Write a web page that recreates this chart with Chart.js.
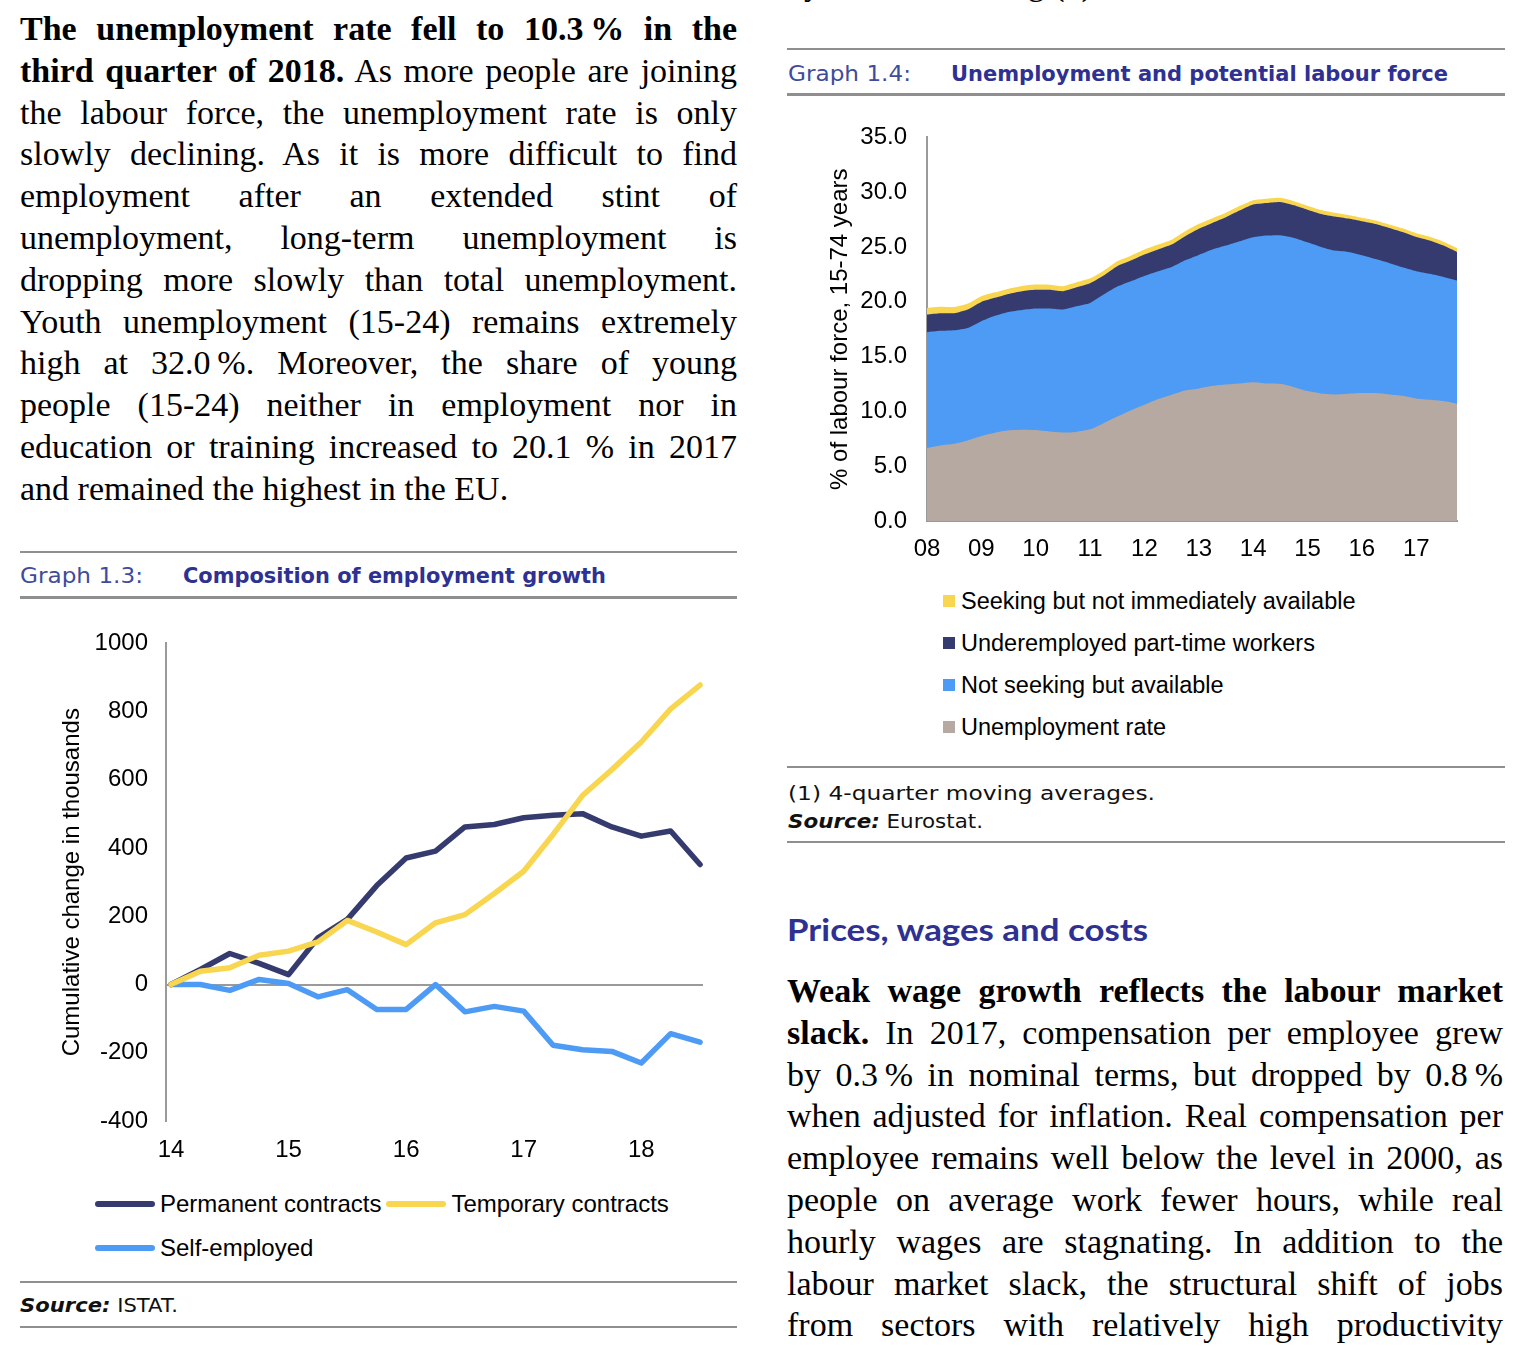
<!DOCTYPE html>
<html>
<head>
<meta charset="utf-8">
<script src="https://cdn.jsdelivr.net/npm/chart.js@4.4.1/dist/chart.umd.min.js"></script>
<style>
  body { margin: 0; background: #fff; width: 1513px; height: 1350px; overflow: hidden; position: relative; }
  .abs { position: absolute; white-space: nowrap; transform-origin: 0 0; }
  .para { position: absolute; font-family: 'Liberation Serif', 'Times New Roman', serif; font-size: 34px; color: #000; }
  .para .ln { height: 41.8px; line-height: 41.8px; text-align: justify; text-align-last: justify; }
  .para .ln.last { text-align-last: left; }
  .rule { position: absolute; background: #8f8f8f; height: 2px; }
  .glabel { font-family: 'DejaVu Sans', sans-serif; font-size: 21px; line-height: 1; color: #3f4b9c; }
  .gtitle { font-family: 'DejaVu Sans', sans-serif; font-size: 21px; line-height: 1; font-weight: bold; color: #2e3192; }
  .note { font-family: 'DejaVu Sans', sans-serif; font-size: 20px; line-height: 1; color: #111; }
  .heading { font-family: 'Lato', sans-serif; font-size: 30px; line-height: 1; font-weight: bold; color: #2e3192; }
  canvas { position: absolute; }
  #lineLegend { position: absolute; left: 95px; top: 1182px; width: 610px; display: flex; flex-wrap: wrap;
    font-family: 'Liberation Sans', Arial, sans-serif; font-size: 24px; color: #000; }
  #lineLegend .item { display: flex; align-items: center; height: 44px; margin-right: 5px; }
  #lineLegend .mark { width: 60px; height: 6px; border-radius: 3px; margin-right: 5px; }
  #areaLegend { position: absolute; left: 943px; top: 580px; display: flex; flex-direction: column;
    font-family: 'Liberation Sans', Arial, sans-serif; font-size: 23.5px; color: #000; }
  #areaLegend .item { display: flex; align-items: center; height: 42px; }
  #areaLegend .mark { width: 12px; height: 12px; margin-right: 6px; }
</style>
</head>
<body>

<!-- cut-off line at the top of the right column -->
<div class="para" style="left:787px; top:-37px; width:716px;">
  <div class="ln last">by a broader rating (1)</div>
</div>

<div class="para" style="left:20px; top:8px; width:717px;">
  <div class="ln"><b>The unemployment rate fell to 10.3&#8201;% in the</b></div>
  <div class="ln"><b>third quarter of 2018.</b> As more people are joining</div>
  <div class="ln">the labour force, the unemployment rate is only</div>
  <div class="ln">slowly declining. As it is more difficult to find</div>
  <div class="ln">employment after an extended stint of</div>
  <div class="ln">unemployment, long-term unemployment is</div>
  <div class="ln">dropping more slowly than total unemployment.</div>
  <div class="ln">Youth unemployment (15-24) remains extremely</div>
  <div class="ln">high at 32.0&#8201;%. Moreover, the share of young</div>
  <div class="ln">people (15-24) neither in employment nor in</div>
  <div class="ln">education or training increased to 20.1 % in 2017</div>
  <div class="ln last">and remained the highest in the EU.</div>
</div>

<!-- Graph 1.3 -->
<div class="rule" style="left:20px; top:551px; width:717px;"></div>
<div class="abs glabel" style="left:20px; top:566px;" data-w="123">Graph 1.3:</div>
<div class="abs gtitle" style="left:183px; top:566px;" data-w="423">Composition of employment growth</div>
<div class="rule" style="left:20px; top:596px; width:717px; height:3px;"></div>
<canvas id="lineChart" width="680" height="559" style="left:40px; top:611px; width:680px; height:559px;"></canvas>
<div id="lineLegend"></div>
<div class="rule" style="left:20px; top:1281px; width:717px;"></div>
<div class="abs note" style="left:20px; top:1295px;" data-w="158"><b><i>Source:</i></b> ISTAT.</div>
<div class="rule" style="left:20px; top:1326px; width:717px;"></div>

<!-- Graph 1.4 -->
<div class="rule" style="left:787px; top:48px; width:718px;"></div>
<div class="abs glabel" style="left:788px; top:64px;" data-w="123">Graph 1.4:</div>
<div class="abs gtitle" style="left:951px; top:64px;" data-w="497">Unemployment and potential labour force</div>
<div class="rule" style="left:787px; top:93px; width:718px; height:3px;"></div>
<canvas id="areaChart" width="662" height="462" style="left:815px; top:103px; width:662px; height:462px;"></canvas>
<div id="areaLegend"></div>
<div class="rule" style="left:787px; top:766px; width:718px;"></div>
<div class="abs note" style="left:788px; top:783px;" data-w="367">(1) 4-quarter moving averages.</div>
<div class="abs note" style="left:788px; top:811px;" data-w="195"><b><i>Source:</i></b> Eurostat.</div>
<div class="rule" style="left:787px; top:841px; width:718px;"></div>

<div class="abs heading" style="left:787px; top:914px;" data-w="361">Prices, wages and costs</div>

<div class="para" style="left:787px; top:970px; width:716px;">
  <div class="ln"><b>Weak wage growth reflects the labour market</b></div>
  <div class="ln"><b>slack.</b> In 2017, compensation per employee grew</div>
  <div class="ln">by 0.3&#8201;% in nominal terms, but dropped by 0.8&#8201;%</div>
  <div class="ln">when adjusted for inflation. Real compensation per</div>
  <div class="ln">employee remains well below the level in 2000, as</div>
  <div class="ln">people on average work fewer hours, while real</div>
  <div class="ln">hourly wages are stagnating. In addition to the</div>
  <div class="ln">labour market slack, the structural shift of jobs</div>
  <div class="ln">from sectors with relatively high productivity</div>
</div>

<script>
// Graph 1.3 data, quarterly 2014Q1 - 2018Q3 (thousands)
const lineQuarters = ['14Q1','14Q2','14Q3','14Q4','15Q1','15Q2','15Q3','15Q4','16Q1','16Q2',
  '16Q3','16Q4','17Q1','17Q2','17Q3','17Q4','18Q1','18Q2','18Q3'];
const lineYears = ['14', '15', '16', '17', '18'];
const permanent = [0, 44, 91, 62, 29, 137, 191, 290, 371, 391, 462, 469, 489, 496, 501, 462, 435, 450, 352];
const temporary = [0, 39, 49, 86, 98, 125, 188, 154, 117, 181, 205, 267, 332, 440, 554, 630, 711, 808, 878];
const selfEmployed = [0, 0, -17, 15, 3, -36, -15, -73, -73, 0, -80, -64, -78, -178, -191, -196, -230, -144, -169];

// Graph 1.4 data, quarterly 2008Q1 - 2017Q4 (% of labour force)
const areaQuarters = ['08Q1','08Q2','08Q3','08Q4','09Q1','09Q2','09Q3','09Q4','10Q1','10Q2',
  '10Q3','10Q4','11Q1','11Q2','11Q3','11Q4','12Q1','12Q2','12Q3','12Q4',
  '13Q1','13Q2','13Q3','13Q4','14Q1','14Q2','14Q3','14Q4','15Q1','15Q2',
  '15Q3','15Q4','16Q1','16Q2','16Q3','16Q4','17Q1','17Q2','17Q3','17Q4'];
const areaYears = ['08', '09', '10', '11', '12', '13', '14', '15', '16', '17'];
const unemploymentRate = [6.68, 6.90, 7.05, 7.35, 7.75, 8.05, 8.27, 8.33, 8.30, 8.17,
  8.08, 8.13, 8.36, 8.93, 9.54, 10.09, 10.60, 11.12, 11.52, 11.91,
  12.10, 12.34, 12.46, 12.55, 12.67, 12.55, 12.52, 12.21, 11.85, 11.64,
  11.55, 11.61, 11.67, 11.67, 11.55, 11.43, 11.18, 11.06, 10.94, 10.70];
const notSeeking = [10.55, 10.45, 10.36, 10.27, 10.48, 10.67, 10.81, 10.93, 11.09, 11.22,
  11.22, 11.47, 11.54, 11.73, 11.85, 11.79, 11.76, 11.67, 11.66, 11.88,
  12.18, 12.43, 12.67, 12.97, 13.22, 13.49, 13.55, 13.62, 13.58, 13.37,
  13.12, 12.94, 12.58, 12.24, 12.00, 11.72, 11.61, 11.49, 11.33, 11.24];
const underemployed = [1.61, 1.61, 1.55, 1.68, 1.76, 1.64, 1.64, 1.71, 1.70, 1.70,
  1.67, 1.73, 1.80, 1.74, 1.86, 1.88, 1.95, 1.98, 2.04, 2.19,
  2.38, 2.43, 2.58, 2.80, 2.98, 2.98, 3.04, 2.98, 2.98, 3.01,
  3.11, 3.04, 3.10, 3.19, 3.19, 3.22, 3.13, 3.04, 2.86, 2.61];
const seekingNotAvailable = [0.60, 0.58, 0.56, 0.54, 0.52, 0.50, 0.48, 0.48, 0.48, 0.47,
  0.46, 0.45, 0.44, 0.44, 0.45, 0.45, 0.46, 0.45, 0.45, 0.45,
  0.45, 0.43, 0.42, 0.41, 0.40, 0.39, 0.38, 0.37, 0.36, 0.35,
  0.34, 0.33, 0.32, 0.32, 0.32, 0.33, 0.34, 0.35, 0.36, 0.37];

const navy = '#353b6e';
const yellow = '#f9d64f';
const blue = '#4d9bf5';
const taupe = '#b5a9a1';
const axisGrey = '#9a9a9a';

Chart.defaults.font.family = "'Liberation Sans', Arial, sans-serif";
Chart.defaults.font.size = 24;
Chart.defaults.color = '#000';
Chart.defaults.animation = false;

const toXY = (arr) => arr.map((v, i) => ({ x: i, y: v }));

const lineChart = new Chart(document.getElementById('lineChart'), {
  type: 'line',
  data: {
    datasets: [
      { label: 'Permanent contracts', data: toXY(permanent), borderColor: navy, order: 1 },
      { label: 'Temporary contracts', data: toXY(temporary), borderColor: yellow, order: 0 },
      { label: 'Self-employed', data: toXY(selfEmployed), borderColor: blue, order: 2 },
    ],
  },
  options: {
    responsive: false,
    // the top of the plot is set by the tick label padding, so padding.top stays 0
    layout: { padding: { top: 0, right: 17, left: 0, bottom: 0 } },
    elements: {
      line: { borderWidth: 5.5, tension: 0, borderCapStyle: 'round', borderJoinStyle: 'round' },
      point: { radius: 0 },
    },
    plugins: { legend: { display: false }, tooltip: { enabled: false } },
    scales: {
      x: {
        type: 'linear',
        min: -0.17,
        max: 18.1,
        grid: { display: false, drawTicks: false },
        border: { display: false },
        afterBuildTicks: (axis) => {
          axis.ticks = lineYears.map((y, i) => ({ value: i * 4 }));
        },
        afterFit: (axis) => { axis.height = 49; },
        ticks: {
          padding: 15,
          maxRotation: 0,
          callback: (value) => lineYears[value / 4],
        },
      },
      y: {
        min: -400,
        max: 1000,
        afterFit: (axis) => { axis.width = 126; },
        ticks: { stepSize: 200, padding: 18, callback: (v) => String(v) },
        grid: {
          drawTicks: false,
          lineWidth: 2,
          color: (ctx) => (ctx.tick && ctx.tick.value === 0 ? axisGrey : 'rgba(0,0,0,0)'),
        },
        border: { display: true, color: axisGrey, width: 2 },
        title: { display: true, text: 'Cumulative change in thousands', padding: { top: 17.6, bottom: 0 } },
      },
    },
  },
});

const areaDataset = (label, data, color) => ({
  label: label,
  data: data,
  backgroundColor: color,
  borderColor: color,
  borderWidth: 0,
  fill: 'origin',
  pointRadius: 0,
  tension: 0.2,
});

const areaChart = new Chart(document.getElementById('areaChart'), {
  type: 'line',
  data: {
    labels: areaQuarters,
    datasets: [
      areaDataset('Unemployment rate', unemploymentRate, taupe),
      areaDataset('Not seeking but available', notSeeking, blue),
      areaDataset('Underemployed part-time workers', underemployed, navy),
      areaDataset('Seeking but not immediately available', seekingNotAvailable, yellow),
    ],
  },
  options: {
    responsive: false,
    layout: { padding: { top: 0, right: 20, left: 0, bottom: 0 } },
    plugins: { legend: { display: false }, tooltip: { enabled: false } },
    scales: {
      x: {
        offset: false,
        grid: { display: false, drawTicks: false },
        border: { display: true, color: axisGrey, width: 2 },
        afterFit: (axis) => { axis.height = 44; },
        ticks: {
          padding: 14,
          autoSkip: false,
          maxRotation: 0,
          callback: (value, i) => (i % 4 === 0 ? areaYears[i / 4] : ''),
        },
      },
      y: {
        stacked: true,
        min: 0,
        max: 35,
        afterFit: (axis) => { axis.width = 112; },
        ticks: { stepSize: 5, padding: 20, callback: (v) => v.toFixed(1) },
        grid: { display: false, drawTicks: false },
        border: { display: true, color: axisGrey, width: 2 },
        title: { display: true, text: '% of labour force, 15-74 years', padding: { top: 10.6, bottom: 0 } },
      },
    },
  },
});

// html legends built from the chart datasets
function buildLegend(chart, id, reverse, colorKey) {
  const box = document.getElementById(id);
  let sets = chart.data.datasets.slice();
  if (reverse) sets.reverse();
  sets.forEach((ds) => {
    const item = document.createElement('div');
    item.className = 'item';
    const mark = document.createElement('span');
    mark.className = 'mark';
    mark.style.background = ds[colorKey];
    const txt = document.createElement('span');
    txt.textContent = ds.label;
    item.appendChild(mark);
    item.appendChild(txt);
    box.appendChild(item);
  });
}
buildLegend(lineChart, 'lineLegend', false, 'borderColor');
buildLegend(areaChart, 'areaLegend', true, 'backgroundColor');

// squeeze/stretch the sans headings to the widths in the page
function fitWidths() {
  document.querySelectorAll('[data-w]').forEach((el) => {
    el.style.transform = 'none';
    const w = el.getBoundingClientRect().width;
    el.style.transform = 'scaleX(' + (el.dataset.w / w) + ')';
  });
}
fitWidths();
if (document.fonts) document.fonts.ready.then(fitWidths);
</script>
</body>
</html>
